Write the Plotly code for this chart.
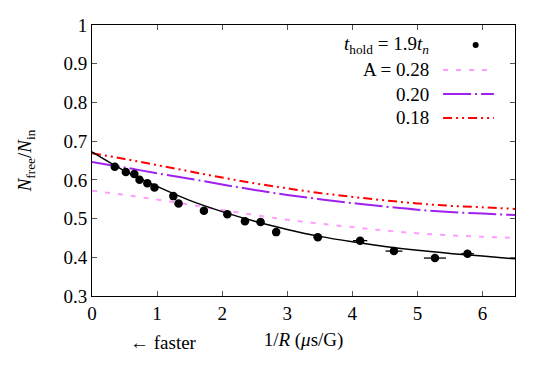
import plotly.graph_objects as go

# measured data (t_hold = 1.9 t_n)
data_x = [0.35, 0.52, 0.65, 0.73, 0.85, 0.96, 1.25, 1.33, 1.72, 2.08, 2.35, 2.59, 2.83, 3.47, 4.12, 4.64, 5.27, 5.77]
data_y = [0.634, 0.620, 0.615, 0.600, 0.591, 0.580, 0.558, 0.539, 0.520, 0.511, 0.493, 0.491, 0.465, 0.452, 0.443, 0.416, 0.398, 0.409]
data_xerr = [0.02, 0.02, 0.02, 0.02, 0.02, 0.02, 0.03, 0.03, 0.03, 0.03, 0.04, 0.06, 0.04, 0.07, 0.11, 0.13, 0.17, 0.10]

# curves
curve_x = [0, 0.5, 1, 1.5, 2, 2.5, 3, 3.5, 4, 4.5, 5, 5.5, 6, 6.5]
fit_y = [0.672, 0.623, 0.583, 0.547, 0.518, 0.493, 0.472, 0.454, 0.440, 0.428, 0.418, 0.410, 0.403, 0.396]
a028_y = [0.572, 0.561, 0.549, 0.536, 0.522, 0.509, 0.497, 0.487, 0.478, 0.469, 0.462, 0.457, 0.453, 0.450]
a020_y = [0.646, 0.632, 0.617, 0.603, 0.588, 0.574, 0.561, 0.550, 0.540, 0.531, 0.523, 0.517, 0.513, 0.509]
a018_y = [0.669, 0.654, 0.638, 0.622, 0.606, 0.591, 0.578, 0.566, 0.556, 0.547, 0.539, 0.533, 0.529, 0.525]

x_ticks = [0, 1, 2, 3, 4, 5, 6]
y_ticks = [0.3, 0.4, 0.5, 0.6, 0.7, 0.8, 0.9, 1.0]
y_tick_text = ["0.3", "0.4", "0.5", "0.6", "0.7", "0.8", "0.9", "1"]

FONT = "Liberation Serif, DejaVu Serif, serif"
FS = 19
PINK = "#ff9cff"
PURPLE = "#a020f0"
RED = "#ff0000"
DASH_PINK = "5px,8px"
DASH_PURPLE = "28px,4px,2px,4px"
DASH_RED = "9px,4px,2px,4px,2px,4px"

fig = go.Figure()
fig.add_trace(go.Scatter(x=curve_x, y=a028_y, mode="lines", line=dict(color=PINK, width=2, dash=DASH_PINK, shape="spline"), showlegend=False))
fig.add_trace(go.Scatter(x=curve_x, y=a020_y, mode="lines", line=dict(color=PURPLE, width=2, dash=DASH_PURPLE, shape="spline"), showlegend=False))
fig.add_trace(go.Scatter(x=curve_x, y=a018_y, mode="lines", line=dict(color=RED, width=2, dash=DASH_RED, shape="spline"), showlegend=False))
fig.add_trace(go.Scatter(x=curve_x, y=fit_y, mode="lines", line=dict(color="black", width=1.5, shape="spline"), showlegend=False))
fig.add_trace(go.Scatter(x=data_x, y=data_y, mode="markers",
                         marker=dict(color="black", size=8.5),
                         error_x=dict(type="data", array=data_xerr, color="black", thickness=1.3, width=0),
                         showlegend=False))

axis_common = dict(showline=True, linecolor="black", linewidth=1, mirror="allticks",
                   ticks="inside", ticklen=5, tickcolor="#555", showgrid=False, zeroline=False,
                   tickfont=dict(family=FONT, size=FS, color="black"))

fig.update_layout(
    width=542, height=375,
    margin=dict(l=92, r=27, t=25, b=79),
    paper_bgcolor="white", plot_bgcolor="white",
    font=dict(family=FONT, size=FS, color="black"),
    xaxis=dict(range=[0, 6.5], tickvals=x_ticks, **axis_common,
               title=dict(text="1/<i>R</i> (<i>μ</i>s/G)", font=dict(family=FONT, size=FS), standoff=9)),
    yaxis=dict(range=[0.3, 1.0], tickvals=y_ticks, ticktext=y_tick_text, **axis_common,
               title=dict(text="<i>N</i><sub>free</sub>/<i>N</i><sub>in</sub>", font=dict(family=FONT, size=FS), standoff=26)),
)

# "← faster" note
fig.add_annotation(x=0.168, y=-0.17, xref="paper", yref="paper", text="← faster", showarrow=False,
                   font=dict(family=FONT, size=FS), xanchor="center", yanchor="middle")

# custom legend (text on left, sample on right)
leg_x_text = 0.801
leg = [
    ("<i>t</i><sub>hold</sub> = 1.9<i>t</i><sub><i>n</i></sub>", 0.926),
    ("A = 0.28", 0.834),
    ("0.20", 0.745),
    ("0.18", 0.657),
]
for txt, yy in leg:
    fig.add_annotation(x=leg_x_text, y=yy, xref="paper", yref="paper", text=txt, showarrow=False,
                       font=dict(family=FONT, size=FS), xanchor="right", yanchor="middle")

fig.add_shape(type="circle", xref="paper", yref="paper", x0=0.907 - 0.0071, x1=0.907 + 0.0071,
              y0=0.926 - 0.011, y1=0.926 + 0.011, fillcolor="black", line=dict(color="black", width=0))
fig.add_shape(type="line", xref="paper", yref="paper", x0=0.830, x1=0.945, y0=0.834, y1=0.834,
              line=dict(color=PINK, width=2, dash=DASH_PINK))
fig.add_shape(type="line", xref="paper", yref="paper", x0=0.830, x1=0.950, y0=0.745, y1=0.745,
              line=dict(color=PURPLE, width=2, dash=DASH_PURPLE))
fig.add_shape(type="line", xref="paper", yref="paper", x0=0.830, x1=0.950, y0=0.657, y1=0.657,
              line=dict(color=RED, width=2, dash=DASH_RED))

fig.write_html("out.html")
